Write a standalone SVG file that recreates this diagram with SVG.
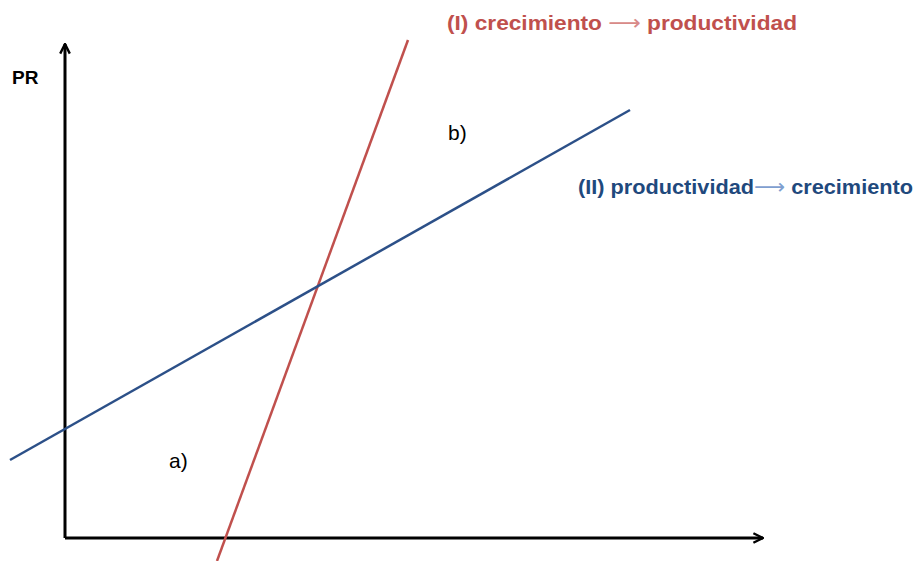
<svg xmlns="http://www.w3.org/2000/svg" width="915" height="561" viewBox="0 0 915 561">
<style>
.ax{stroke:#000;stroke-width:3;fill:none}
.t{font-family:"Liberation Sans",Arial,sans-serif}
.b{font-weight:bold}
.arr{font-family:"DejaVu Sans",sans-serif;font-weight:normal}
</style>
<defs>
<marker id="ah" viewBox="0 0 10 10" refX="9" refY="5" markerWidth="4" markerHeight="4" orient="auto" markerUnits="strokeWidth">
<path d="M1,1 L9,5 L1,9" fill="none" stroke="#000" stroke-width="2"/>
</marker>
</defs>
<rect width="915" height="561" fill="#fff"/>
<g id="axes">
<path class="ax" d="M65,538 L65,44" marker-end="url(#ah)"/>
<path class="ax" d="M65,538 L763,538" marker-end="url(#ah)"/>
</g>
<g id="connectors">
<line x1="217" y1="561" x2="408" y2="40" stroke="#c0504d" stroke-width="2.5"/>
<line x1="10" y1="460" x2="630" y2="110" stroke="#2c5088" stroke-width="2.5"/>
</g>
<g id="label-PR"><text class="t b" x="12" y="84" font-size="19" fill="#000">PR</text></g>
<g id="label-a"><text class="t" x="169" y="468" font-size="21" fill="#000">a)</text></g>
<g id="label-b"><text class="t" x="448" y="140" font-size="21" fill="#000">b)</text></g>
<g id="label-I"><text class="t b" x="447" y="30" font-size="21" fill="#c0504d" textLength="350" lengthAdjust="spacingAndGlyphs">(I)  crecimiento <tspan class="arr" fill="#d88a88">⟶</tspan>  productividad</text></g>
<g id="label-II"><text class="t b" x="578" y="194" font-size="21" fill="#1f497d" textLength="335" lengthAdjust="spacingAndGlyphs">(II) productividad<tspan class="arr" fill="#7f9fd0">⟶</tspan> crecimiento</text></g>
</svg>
